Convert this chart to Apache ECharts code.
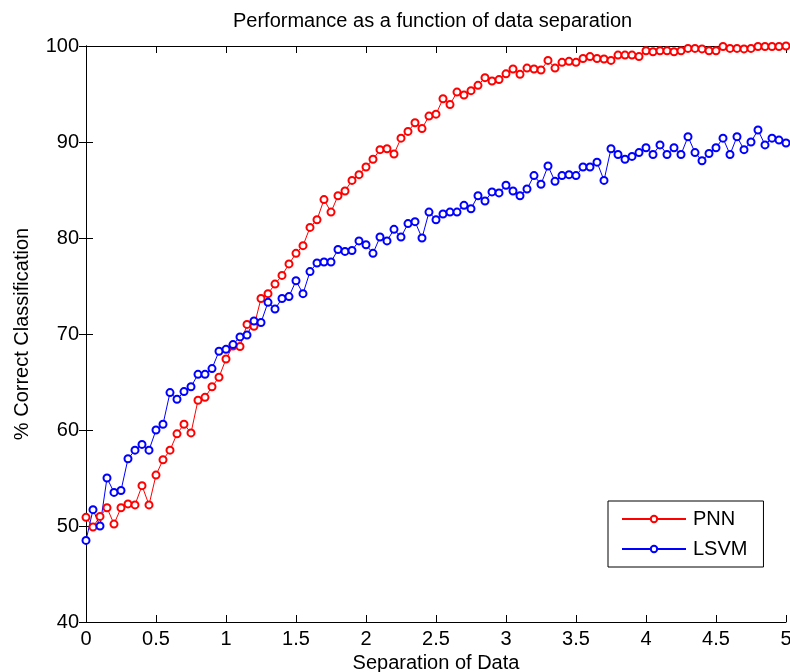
<!DOCTYPE html>
<html>
<head>
<meta charset="utf-8">
<script src="https://cdn.jsdelivr.net/npm/echarts@6/dist/echarts.min.js"></script>
<style>html,body{margin:0;padding:0;background:#fff;}#c{width:790px;height:672px;}</style>
</head>
<body>
<div id="c"></div>
<script>
const titleText = 'Performance as a function of data separation';
const xName = 'Separation of Data';
const yName = '% Correct Classification';
const seriesNames = ['PNN', 'LSVM'];
const step = 0.05;
const pnn = [50.9,49.9,51.0,51.9,50.2,51.9,52.3,52.2,54.2,52.2,
  55.3,56.9,57.9,59.6,60.6,59.7,63.1,63.4,64.5,65.5,
  67.4,68.75,68.7,71.0,70.8,73.7,74.2,75.2,76.1,77.3,
  78.4,79.2,81.1,81.9,84.0,82.7,84.4,84.9,86.0,86.6,
  87.4,88.2,89.2,89.3,88.75,90.4,91.1,92.0,91.4,92.7,
  92.9,94.5,93.9,95.2,94.9,95.35,95.9,96.7,96.35,96.5,
  97.1,97.6,97.05,97.7,97.6,97.5,98.5,97.7,98.3,98.4,
  98.3,98.7,98.9,98.7,98.65,98.5,99.05,99.05,99.05,98.9,
  99.5,99.4,99.5,99.5,99.4,99.5,99.75,99.75,99.7,99.5,
  99.5,99.95,99.75,99.75,99.7,99.75,99.95,99.95,99.95,99.95,
  100];
const lsvm = [48.5,51.7,50.0,55.0,53.5,53.7,57.0,57.9,58.5,57.9,
  60.0,60.6,63.9,63.2,64.0,64.5,65.8,65.8,66.4,68.2,
  68.4,68.9,69.7,69.9,71.35,71.2,73.3,72.6,73.7,73.9,
  75.55,74.2,76.5,77.4,77.5,77.5,78.8,78.6,78.7,79.7,
  79.3,78.4,80.1,79.7,80.9,80.1,81.5,81.7,80.0,82.7,
  81.9,82.5,82.7,82.7,83.4,83.05,84.4,83.85,84.8,84.7,
  85.5,84.9,84.4,85.1,86.5,85.6,87.5,85.9,86.5,86.6,
  86.5,87.4,87.4,87.9,86.0,89.3,88.7,88.2,88.5,88.9,
  89.4,88.7,89.7,88.7,89.4,88.7,90.55,88.9,88.05,88.8,
  89.4,90.4,88.7,90.55,89.2,90.0,91.25,89.7,90.4,90.2,
  89.9];
const xMin = 0, xMax = 5, xInterval = 0.5;
const yMin = 40, yMax = 100, yInterval = 10;

const separation = pnn.map((_, i) => +(i * step).toFixed(2));
const toPairs = vals => vals.map((v, i) => [separation[i], v]);

const font = "'Liberation Sans', Arial, Helvetica, sans-serif";
const tickStyle = {show: true, inside: true, length: 7, lineStyle: {color: '#000', width: 1}};
const lineStyleAxis = {show: true, lineStyle: {color: '#000', width: 1}};

const chart = echarts.init(document.getElementById('c'), null, {renderer: 'canvas'});
chart.setOption({
  animation: false,
  backgroundColor: '#fff',
  textStyle: {fontFamily: font},
  title: {
    text: titleText, left: 228, top: 6,
    textStyle: {fontFamily: font, fontSize: 20, fontWeight: 'normal', color: '#000'}
  },
  grid: {left: 86, right: 4, top: 46, bottom: 50, containLabel: false, outerBoundsMode: 'none'},
  legend: {
    orient: 'vertical', left: 608, top: 501,
    padding: [8, 16, 8, 13], itemGap: 10, itemWidth: 64, itemHeight: 8,
    backgroundColor: '#fff', borderColor: '#000', borderWidth: 1, borderRadius: 0,
    textStyle: {fontFamily: font, fontSize: 20, color: '#000', padding: [0, 0, 0, 2]},
    data: seriesNames
  },
  xAxis: [{
    type: 'value', min: xMin, max: xMax, interval: xInterval, position: 'bottom',
    axisLine: lineStyleAxis, axisTick: tickStyle, splitLine: {show: false},
    axisLabel: {color: '#000', fontSize: 20, fontFamily: font, margin: 7},
    name: xName, nameLocation: 'middle', nameGap: 31,
    nameTextStyle: {color: '#000', fontSize: 20, fontFamily: font}
  }, {
    type: 'value', min: xMin, max: xMax, interval: xInterval, position: 'top',
    axisLine: lineStyleAxis, axisTick: tickStyle, splitLine: {show: false},
    axisLabel: {show: false}
  }],
  yAxis: [{
    type: 'value', min: yMin, max: yMax, interval: yInterval, position: 'left',
    axisLine: lineStyleAxis, axisTick: tickStyle, splitLine: {show: false},
    axisLabel: {color: '#000', fontSize: 20, fontFamily: font, margin: 7},
    name: yName, nameLocation: 'middle', nameGap: 54, nameRotate: 90,
    nameTextStyle: {color: '#000', fontSize: 20, fontFamily: font}
  }, {
    type: 'value', min: yMin, max: yMax, interval: yInterval, position: 'right',
    axisLine: lineStyleAxis, axisTick: tickStyle, splitLine: {show: false},
    axisLabel: {show: false}
  }],
  series: [{
    name: seriesNames[0], type: 'line', data: toPairs(pnn),
    xAxisIndex: 0, yAxisIndex: 0, clip: false,
    symbol: 'emptyCircle', symbolSize: 7, showAllSymbol: true,
    lineStyle: {color: '#ff0000', width: 1},
    itemStyle: {color: '#ff0000', borderColor: '#ff0000', borderWidth: 1}
  }, {
    name: seriesNames[1], type: 'line', data: toPairs(lsvm),
    xAxisIndex: 0, yAxisIndex: 0, clip: false,
    symbol: 'emptyCircle', symbolSize: 7, showAllSymbol: true,
    lineStyle: {color: '#0000ff', width: 1},
    itemStyle: {color: '#0000ff', borderColor: '#0000ff', borderWidth: 1}
  }]
});
</script>
</body>
</html>
